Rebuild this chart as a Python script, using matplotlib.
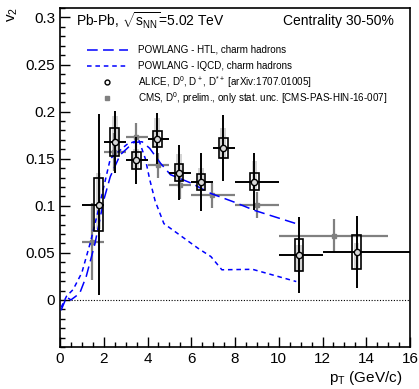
import numpy as np
import matplotlib
matplotlib.use('Agg')
import matplotlib.pyplot as plt
from matplotlib.patches import Rectangle
from matplotlib.lines import Line2D
from matplotlib.ticker import MultipleLocator, FuncFormatter

plt.rcParams['font.family'] = ['Liberation Sans', 'DejaVu Sans']
plt.rcParams['mathtext.fontset'] = 'custom'
plt.rcParams['mathtext.rm'] = 'Liberation Sans'
plt.rcParams['mathtext.it'] = 'Liberation Sans'
plt.rcParams['mathtext.bf'] = 'Liberation Sans:bold'

# POWLANG model curves
htl_pt = [0.05, 0.3, 0.5, 0.9, 1.2, 1.6, 2.0, 2.3, 2.75, 3.35, 3.75, 4.1, 4.6, 5.05, 6.0, 6.9, 7.95, 8.9, 10.8]
htl_v2 = [-0.011, 0.003, 0.0, 0.007, 0.025, 0.06, 0.106, 0.131, 0.154, 0.167, 0.168, 0.161, 0.145, 0.133, 0.124, 0.113, 0.104, 0.095, 0.081]
lqcd_pt = [0.05, 0.3, 0.6, 1.0, 1.4, 1.8, 2.3, 3.05, 3.6, 3.9, 4.1, 4.35, 4.75, 5.35, 6.3, 6.9, 7.4, 8.8, 10.8]
lqcd_v2 = [-0.008, 0.004, 0.011, 0.029, 0.062, 0.1, 0.15, 0.165, 0.170, 0.150, 0.128, 0.105, 0.081, 0.071, 0.055, 0.046, 0.032, 0.0325, 0.0195]

# ALICE D mesons
alice_pt = [1.76, 2.5, 3.48, 4.44, 5.44, 6.44, 7.46, 8.89, 10.93, 13.56]
alice_lo = [1, 2, 3, 4, 5, 6, 7, 8, 10, 12]
alice_hi = [2, 3, 4, 5, 6, 7, 8, 10, 12, 16]
alice_v2 = [0.101, 0.168, 0.1485, 0.171, 0.135, 0.125, 0.161, 0.1255, 0.0477, 0.0506]
alice_stat = [0.096, 0.033, 0.025, 0.027, 0.029, 0.031, 0.035, 0.030, 0.040, 0.038]
alice_syst = [0.028, 0.015, 0.009, 0.0085, 0.009, 0.0087, 0.0105, 0.009, 0.017, 0.018]
alice_fd_lo = [0.075, 0.153, 0.140, 0.162, 0.125, 0.116, 0.150, 0.117, 0.030, 0.032]
alice_fd_hi = [0.135, 0.195, 0.160, 0.193, 0.155, 0.140, 0.183, 0.147, 0.058, 0.060]

# CMS D0
cms_pt = [1.46, 2.45, 3.49, 4.47, 5.49, 6.97, 9.0, 12.52]
cms_lo = [1, 2, 3, 4, 5, 6, 8, 10]
cms_hi = [2, 3, 4, 5, 6, 8, 10, 15]
cms_v2 = [0.062, 0.157, 0.173, 0.143, 0.122, 0.111, 0.101, 0.068]
cms_stat = [0.041, 0.02, 0.015, 0.013, 0.015, 0.013, 0.014, 0.018]

W, H = 419, 389
fig = plt.figure(figsize=(W / 100, H / 100), dpi=100)
ax = fig.add_axes([60/W, 1-347/H, 350/W, 339/H])

def fx(px):
    return px / W

def fy(py):
    return 1 - py / H

ax.plot([0, 16], [0, 0], color='black', lw=0.8, ls=(0, (1, 1.5)), zorder=1)

# feed-down boxes (light gray)
for x, lo, hi in zip(alice_pt, alice_fd_lo, alice_fd_hi):
    ax.add_patch(Rectangle((x - 0.13, lo), 0.26, hi - lo, facecolor='#d4d4d4',
                           edgecolor='none', zorder=2))

# CMS points
cms_x = np.array(cms_pt)
ax.errorbar(cms_x, cms_v2, yerr=cms_stat,
            xerr=[cms_x - np.array(cms_lo), np.array(cms_hi) - cms_x],
            fmt='s', color='#808080', ms=3.5, elinewidth=1.6, capsize=0, zorder=3)

# models
ax.plot(htl_pt, htl_v2, color='#0000ff', lw=1.1, dashes=(7, 3.5), zorder=4)
ax.plot(lqcd_pt, lqcd_v2, color='#0000ff', lw=1.1, dashes=(3, 2.5), zorder=4)

# ALICE syst boxes
for x, y, s in zip(alice_pt, alice_v2, alice_syst):
    ax.add_patch(Rectangle((x - 0.2, y - s), 0.4, 2 * s, facecolor='none',
                           edgecolor='black', lw=1.2, zorder=5))

alice_x = np.array(alice_pt)
ax.errorbar(alice_x, alice_v2, yerr=alice_stat,
            xerr=[alice_x - np.array(alice_lo), np.array(alice_hi) - alice_x],
            fmt='o', color='black', mfc='#d8d8d8', mec='black', ms=4.5, mew=1.0,
            elinewidth=1.4, capsize=0, zorder=6)

ax.set_xlim(0, 16)
ax.set_ylim(-0.05, 0.31)
ax.xaxis.set_major_locator(MultipleLocator(2))
ax.xaxis.set_minor_locator(MultipleLocator(0.5))
ax.set_yticks([0, 0.05, 0.1, 0.15, 0.2, 0.25, 0.3])
ax.yaxis.set_minor_locator(MultipleLocator(0.01))
ax.yaxis.set_major_formatter(FuncFormatter(lambda v, p: '%g' % round(v, 3)))
ax.tick_params(which='both', direction='in', top=False, right=False, labelsize=11)
ax.tick_params(which='major', length=7.5, width=1)
ax.tick_params(which='minor', length=3.8, width=1)
for s in ax.spines.values():
    s.set_linewidth(1.2)

fig.text(fx(6), fy(14), 'v$_2$', rotation=90, fontsize=11, ha='left', va='center')
fig.text(fx(402), fy(378), 'p$_T$ (GeV/c)', fontsize=11, ha='right', va='center')

fig.text(fx(76), fy(21), r'Pb-Pb, $\sqrt{s_{NN}}$=5.02 TeV', fontsize=10,
         ha='left', va='center')
fig.text(fx(394), fy(21), 'Centrality 30-50%', fontsize=10, ha='right', va='center')

# legend drawn by hand so the rows are evenly spaced
rows = [50, 66, 82, 98]
labels = ['POWLANG - HTL, charm hadrons',
          'POWLANG - lQCD, charm hadrons',
          'ALICE, D$^0$, D$^+$, D$^{*+}$ [arXiv:1707.01005]',
          'CMS, D$^0$, prelim., only stat. unc. [CMS-PAS-HIN-16-007]']
fig.add_artist(Line2D([fx(87), fx(128)], [fy(rows[0])] * 2, color='#0000ff',
                      lw=1.1, dashes=(7, 3.5)))
fig.add_artist(Line2D([fx(87), fx(128)], [fy(rows[1])] * 2, color='#0000ff',
                      lw=1.1, dashes=(3, 2.5)))
fig.add_artist(Line2D([fx(107)], [fy(rows[2])], ls='none', marker='o',
                      mfc='white', mec='black', ms=3.5, mew=1))
fig.add_artist(Line2D([fx(107)], [fy(rows[3])], ls='none', marker='s',
                      color='#808080', ms=3))
for r, lab in zip(rows, labels):
    fig.text(fx(138), fy(r), lab, fontsize=7.1, ha='left', va='center')

fig.savefig('out.png', dpi=100)
